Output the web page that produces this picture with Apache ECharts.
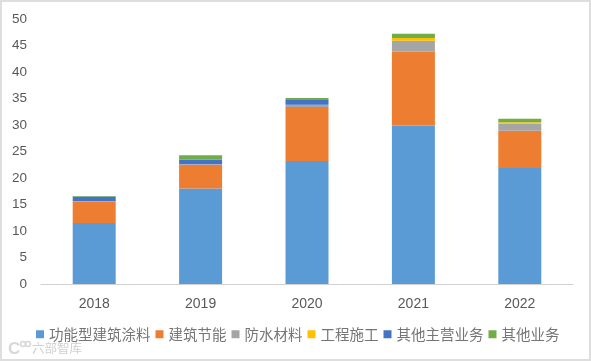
<!DOCTYPE html>
<html>
<head>
<meta charset="utf-8">
<style>
  html, body { margin: 0; padding: 0; background: #fff; }
  #chart { width: 591px; height: 361px; }
</style>
<script src="https://cdn.jsdelivr.net/npm/echarts@6/dist/echarts.min.js"></script>
</head>
<body>
<div id="chart"></div>
<script>
const years = ['2018', '2019', '2020', '2021', '2022'];
const coating = [11.5, 18, 23.2, 29.9, 21.9];
const energySaving = [4, 4.5, 10.2, 13.9, 7];
const waterproof = [0.1, 0.1, 0.4, 2.1, 1.4];
const construction = [0, 0, 0, 0.5, 0.2];
const otherMain = [0.9, 0.9, 0.9, 0, 0];
const otherBiz = [0.1, 0.8, 0.4, 0.8, 0.7];

const seriesDefs = [
  ['功能型建筑涂料', coating, '#5b9bd5'],
  ['建筑节能', energySaving, '#ed7d31'],
  ['防水材料', waterproof, '#a5a5a5'],
  ['工程施工', construction, '#ffc000'],
  ['其他主营业务', otherMain, '#4472c4'],
  ['其他业务', otherBiz, '#70ad47']
];

const chart = echarts.init(document.getElementById('chart'));
chart.setOption({
  backgroundColor: '#fff',
  animation: false,
  textStyle: { fontFamily: '"Noto Sans CJK SC", sans-serif' },
  graphic: [
    {
      type: 'rect',
      shape: { x: 1, y: 1, width: 589, height: 359 },
      style: { fill: 'none', stroke: '#dedede', lineWidth: 2 }
    },
    // watermark in the bottom left corner
    {
      type: 'text',
      left: 8,
      top: 341,
      style: { text: 'C', fill: '#d8d8d8', font: 'bold 17px "Liberation Sans"' }
    },
    { type: 'circle', shape: { cx: 23, cy: 344, r: 2.5 }, style: { fill: 'none', stroke: '#d8d8d8', lineWidth: 1.5 } },
    { type: 'circle', shape: { cx: 28, cy: 344, r: 2.5 }, style: { fill: 'none', stroke: '#d8d8d8', lineWidth: 1.5 } },
    {
      type: 'text',
      left: 32,
      top: 342,
      style: { text: '六部智库', fill: '#d0d0d0', font: '12.5px "Noto Sans CJK SC"' }
    }
  ],
  grid: { left: 41, right: 18, top: 19, bottom: 77 },
  legend: {
    top: 322,
    left: 31,
    itemWidth: 8,
    itemHeight: 8,
    itemGap: 5,
    icon: 'rect',
    textStyle: { fontSize: 14.5, color: '#757575' },
    data: seriesDefs.map(s => s[0])
  },
  xAxis: {
    type: 'category',
    data: years,
    axisTick: { show: false },
    axisLine: { lineStyle: { color: '#d0d0d0' } },
    axisLabel: { color: '#595959', fontSize: 14, margin: 13, fontFamily: 'Liberation Sans' }
  },
  yAxis: {
    type: 'value',
    min: 0,
    max: 50,
    interval: 5,
    splitLine: { show: false },
    axisLine: { show: false },
    axisTick: { show: false },
    axisLabel: { color: '#595959', fontSize: 13.5, margin: 14, fontFamily: 'Liberation Sans' }
  },
  series: seriesDefs.map(s => ({
    name: s[0],
    type: 'bar',
    stack: 'total',
    barWidth: 43,
    data: s[1],
    itemStyle: { color: s[2] }
  }))
});
</script>
</body>
</html>
